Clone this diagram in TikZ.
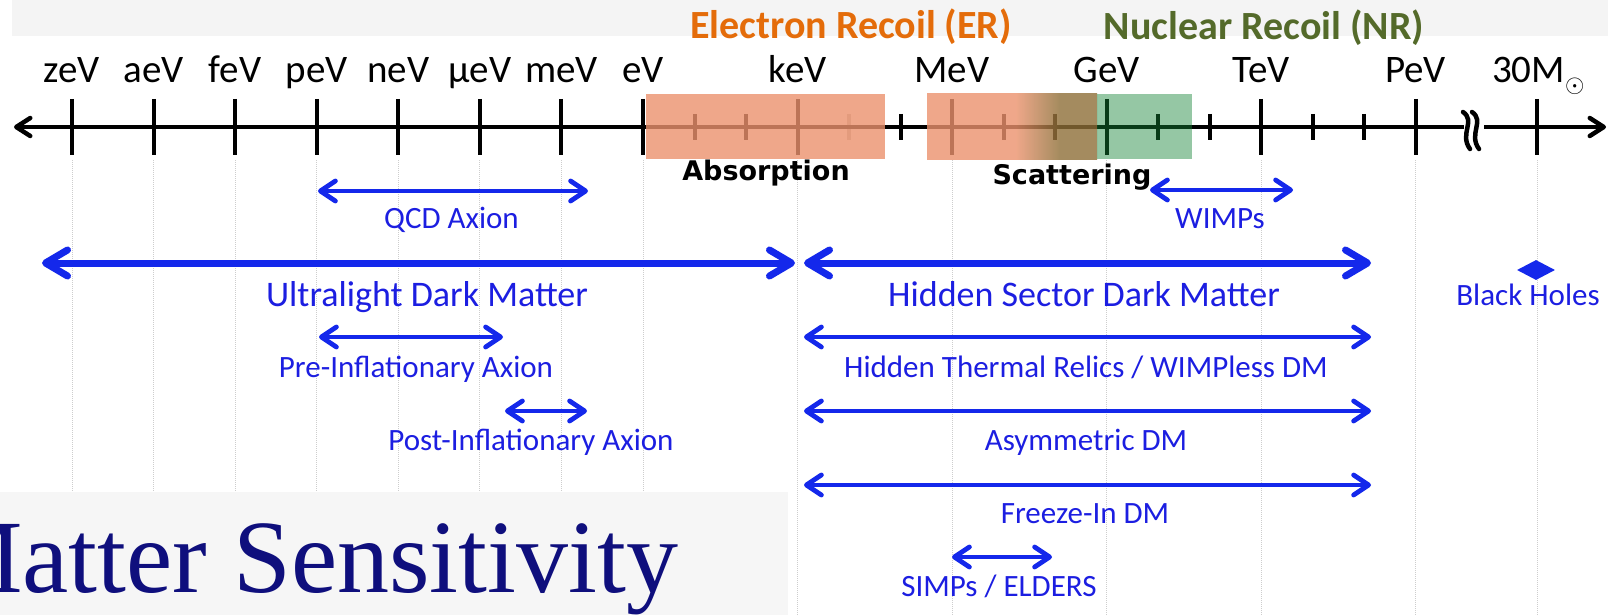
\documentclass[tikz,border=0pt]{standalone}
\usepackage{fontspec}
\setmainfont{Carlito}
\newfontfamily\djv{DejaVu Sans}
\newfontfamily\tms{Liberation Serif}
\usetikzlibrary{arrows.meta,shapes.geometric}
\definecolor{dmblue}{RGB}{20,40,235}
\definecolor{txtblue}{RGB}{28,30,225}
\definecolor{ertxt}{RGB}{228,108,10}
\definecolor{nrtxt}{RGB}{84,106,42}
\definecolor{erfill}{RGB}{236,146,109}
\definecolor{olvfill}{RGB}{142,111,55}
\definecolor{nrfill}{RGB}{22,133,55}
\definecolor{navytxt}{RGB}{15,15,125}
\definecolor{bandgrey}{RGB}{244,244,244}
\definecolor{boxgrey}{RGB}{246,246,246}
\definecolor{gridgrey}{RGB}{205,205,205}
\pgfdeclarehorizontalshading{ershade}{100bp}{color(0bp)=(erfill); color(51bp)=(erfill); color(64bp)=(olvfill); color(100bp)=(olvfill)}
\begin{document}
\begin{tikzpicture}[x=1pt,y=-1pt,
  axisline/.style={line width=4.5pt, black},
  majortick/.style={line width=4pt, black},
  minortick/.style={line width=4pt, black},
  breakline/.style={line width=4.5pt, black, line cap=round},
  gridline/.style={draw=gridgrey, line width=1pt, densely dotted},
  axlbl/.style={font=\fontsize{39}{39}\selectfont, anchor=base, inner sep=0pt},
  reclbl/.style={font=\bfseries\fontsize{40}{40}\selectfont, anchor=base, inner sep=0pt},
  proclbl/.style={font=\djv\bfseries\fontsize{27}{27}\selectfont, anchor=base, inner sep=0pt},
  smalllbl/.style={font=\fontsize{31}{31}\selectfont, text=txtblue, anchor=base, inner sep=0pt},
  biglbl/.style={font=\fontsize{36}{36}\selectfont, text=txtblue, anchor=base, inner sep=0pt},
  thinrange/.style={draw=dmblue, line width=4.8pt,
     {Straight Barb[length=15pt,width=20pt,round]}-{Straight Barb[length=15pt,width=20pt,round]}},
  thickrange/.style={draw=dmblue, line width=7pt,
     {Straight Barb[length=22pt,width=26pt,round]}-{Straight Barb[length=22pt,width=26pt,round]}}
]
\useasboundingbox (0,0) rectangle (1608,615);
\clip (0,0) rectangle (1608,615);
\fill[white] (0,0) rectangle (1608,615);
\fill[bandgrey] (12,0) rectangle (1608,36);
\fill[boxgrey] (0,492) rectangle (788,615);

% grid lines
\foreach \x in {72,153.6,235.1,316.7,398.3,479.9,561.4,643}{
  \draw[gridline] (\x,160) -- (\x,492);}
\foreach \x in {797.5,952,1106.5,1261,1415.5,1537}{
  \draw[gridline] (\x,160) -- (\x,615);}

% axis
\coordinate (axL) at (14,127);
\coordinate (brkL) at (1464,127);
\coordinate (brkR) at (1484,127);
\coordinate (axR) at (1606,127);
\draw[axisline, {Straight Barb[length=14pt,width=18pt,round]}-] (axL) -- (brkL);
\draw[axisline, -{Straight Barb[length=14pt,width=18pt,round]}] (brkR) -- (axR);
\draw[breakline] (1463,112) .. controls (1476,121) and (1459,134) .. (1470,149);
\draw[breakline] (1472,112) .. controls (1485,121) and (1468,134) .. (1479,149);

\foreach \x in {72,153.6,235.1,316.7,398.3,479.9,561.4,643,797.5,952,1106.5,1261,1415.5,1537}{
  \draw[majortick] (\x,99) -- (\x,155);}
\foreach \x in {694.5,746,900.5,1003.5,1055,1158,1209.5,1312.5,1364}{
  \draw[minortick] (\x,114) -- (\x,140);}
\draw[minortick, opacity=0.25] (849,114) -- (849,140);

% recoil boxes
\fill[erfill, opacity=0.8] (645.5,94) rectangle (885,159);
\shade[shading=ershade, opacity=0.8] (927,94) rectangle (1097,159);
\fill[nrfill, opacity=0.45] (1097,94) rectangle (1192,159);

% axis labels
\node[axlbl] (lz) at (72,83) {zeV};
\node[axlbl] (la) at (153.6,83) {aeV};
\node[axlbl] (lf) at (235.1,83) {feV};
\node[axlbl] (lp) at (316.7,83) {peV};
\node[axlbl] (ln) at (398.3,83) {neV};
\node[axlbl] (lmu) at (479.9,83) {μeV};
\node[axlbl] (lm) at (561.4,83) {meV};
\node[axlbl] (le) at (643,83) {eV};
\node[axlbl] (lk) at (797.5,83) {keV};
\node[axlbl] (lM) at (952,83) {MeV};
\node[axlbl] (lG) at (1106.5,83) {GeV};
\node[axlbl] (lT) at (1261,83) {TeV};
\node[axlbl] (lP) at (1415.5,83) {PeV};
\node[axlbl, anchor=base west] (l30) at (1492,83) {30M\raisebox{-10pt}{\fontsize{25}{25}\selectfont$\odot$}};

% recoil titles
\node[reclbl, text=ertxt] (er) at (851,39) {Electron Recoil (ER)};
\node[reclbl, text=nrtxt] (nr) at (1264,40) {Nuclear Recoil (NR)};
\node[proclbl] (abs) at (766,180) {Absorption};
\node[proclbl] (sca) at (1072,184) {Scattering};

% ranges
\coordinate (qcdL) at (318,191); \coordinate (qcdR) at (588,191);
\draw[thinrange] (qcdL) -- (qcdR);
\node[smalllbl] (qcd) at (451.5,228) {QCD Axion};

\coordinate (wimL) at (1150,190); \coordinate (wimR) at (1293,190);
\draw[thinrange] (wimL) -- (wimR);
\node[smalllbl] (wim) at (1220,228) {WIMPs};

\coordinate (ulL) at (42,263); \coordinate (ulR) at (795,263);
\draw[thickrange] (ulL) -- (ulR);
\node[biglbl] (ul) at (427,306) {Ultralight Dark Matter};

\coordinate (hsL) at (804,263); \coordinate (hsR) at (1371,263);
\draw[thickrange] (hsL) -- (hsR);
\node[biglbl] (hs) at (1084,306) {Hidden Sector Dark Matter};

\node[diamond, fill=dmblue, inner sep=0pt, minimum width=38pt, minimum height=20pt] (bhd) at (1536,270) {};
\node[smalllbl] (bh) at (1528,305) {Black Holes};

\coordinate (preL) at (319,337); \coordinate (preR) at (503,337);
\draw[thinrange] (preL) -- (preR);
\node[smalllbl] (pre) at (416,377) {Pre-Inflationary Axion};

\coordinate (htL) at (804,337); \coordinate (htR) at (1371,337);
\draw[thinrange] (htL) -- (htR);
\node[smalllbl] (ht) at (1086,377) {Hidden Thermal Relics / WIMPless DM};

\coordinate (postL) at (505,411); \coordinate (postR) at (587,411);
\draw[thinrange] (postL) -- (postR);
\node[smalllbl] (post) at (531,450) {Post-Inflationary Axion};

\coordinate (asL) at (804,411); \coordinate (asR) at (1371,411);
\draw[thinrange] (asL) -- (asR);
\node[smalllbl] (as) at (1086,450) {Asymmetric DM};

\coordinate (fzL) at (804,485); \coordinate (fzR) at (1371,485);
\draw[thinrange] (fzL) -- (fzR);
\node[smalllbl] (fz) at (1085,523) {Freeze-In DM};

\coordinate (siL) at (952,557); \coordinate (siR) at (1052,557);
\draw[thinrange] (siL) -- (siR);
\node[smalllbl] (si) at (999,596) {SIMPs / ELDERS};

% title fragment (cut at the left edge as in the reference)
\node[font=\tms\fontsize{104}{104}\selectfont, text=navytxt, anchor=base west, inner sep=0pt] (title) at (-70,592) {Matter Sensitivity};
\end{tikzpicture}
\end{document}
